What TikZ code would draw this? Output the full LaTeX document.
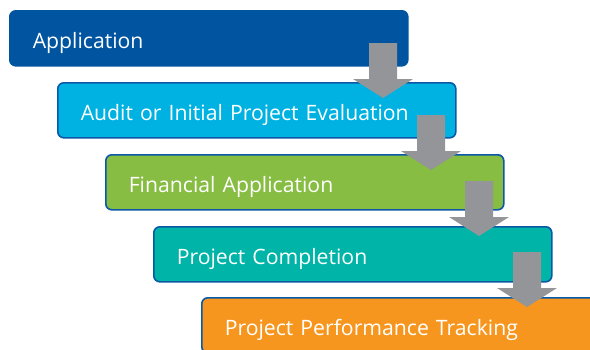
\documentclass[tikz,border=0pt]{standalone}
\usepackage{fontspec}
\setmainfont{Open Sans}
\definecolor{cApp}{HTML}{0155A0}
\definecolor{cAud}{HTML}{00B2E2}
\definecolor{cFin}{HTML}{86BD42}
\definecolor{cCom}{HTML}{00B4A8}
\definecolor{cTrk}{HTML}{F7961F}
\definecolor{cEdge}{HTML}{0A58A6}
\definecolor{cArr}{HTML}{949598}
\tikzset{
  stepbox/.style={draw=cEdge, line width=1.6pt, rounded corners=6pt, anchor=north west,
    minimum height=55pt, text width=352pt, inner xsep=23pt, align=left,
    text height=19.5pt, text depth=0pt,
    text=white, font=\fontsize{21.2}{24}\selectfont},
  flowarrow/.style={fill=cArr, draw=none}
}
\newcommand{\blockarrow}[2]{%
  \fill[flowarrow] (#1-14,#2) -- (#1+14,#2) -- (#1+14,#2-36) -- (#1+30,#2-36) -- (#1,#2-55)
    -- (#1-30,#2-36) -- (#1-14,#2-36) -- cycle;}
\begin{document}
\begin{tikzpicture}[x=1pt,y=1pt]
\useasboundingbox (0,0) rectangle (590,-349);
\clip (0,0) rectangle (590,-349);
\node[stepbox, fill=cApp, draw=cApp] (b1) at (9,-10) {Application};
\node[stepbox, fill=cAud] (b2) at (57,-82) {Audit or Initial Project Evaluation};
\node[stepbox, fill=cFin] (b3) at (105,-154) {Financial Application};
\node[stepbox, fill=cCom] (b4) at (153,-226) {Project Completion};
\node[stepbox, fill=cTrk] (b5) at (201,-297) {Project Performance Tracking};
\blockarrow{383}{-43}
\blockarrow{431}{-115}
\blockarrow{479}{-181}
\blockarrow{527}{-252}
\end{tikzpicture}
\end{document}
